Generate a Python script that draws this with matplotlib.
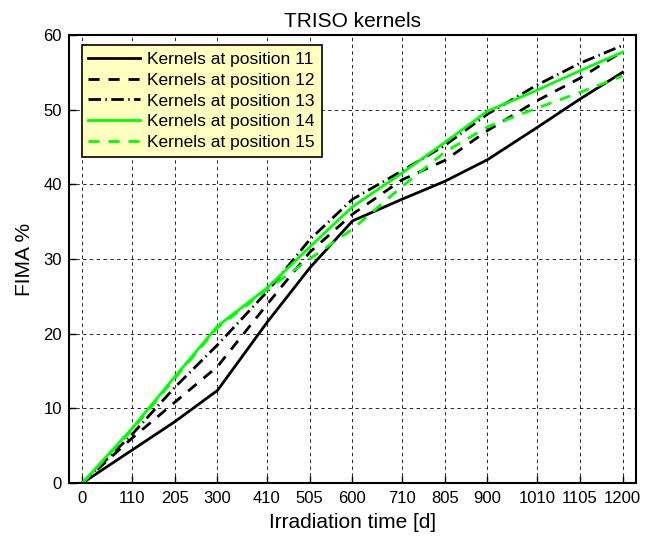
import numpy as np
import matplotlib
matplotlib.use('Agg')
import matplotlib.pyplot as plt

plt.rcParams['font.family'] = ['Liberation Sans', 'DejaVu Sans']

# irradiation days and burnup (FIMA %) for each kernel position
days = [0, 110, 205, 300, 410, 505, 600, 710, 805, 900, 1010, 1105, 1200]
fima_11 = [0, 4.4, 8.2, 12.4, 21.5, 28.8, 35.1, 38.0, 40.4, 43.3, 47.6, 51.4, 55.0]
fima_12 = [0, 6.0, 10.8, 15.6, 23.9, 30.9, 36.0, 40.6, 43.2, 47.2, 51.2, 54.2, 57.8]
fima_13 = [0, 6.5, 12.8, 18.5, 25.6, 32.6, 38.0, 41.8, 45.2, 49.4, 53.3, 56.2, 58.6]
fima_14 = [0, 7.3, 14.2, 21.0, 26.1, 31.6, 37.0, 41.5, 45.6, 49.8, 52.6, 55.2, 57.7]
fima_15 = [0, 7.1, 14.0, 20.8, 25.9, 30.0, 34.0, 39.7, 44.3, 47.7, 50.2, 52.3, 54.5]
labels = ['Kernels at position 11', 'Kernels at position 12',
          'Kernels at position 13', 'Kernels at position 14',
          'Kernels at position 15']

fig = plt.figure(figsize=(6.59, 5.45), dpi=100)
ax = fig.add_axes([0.1047, 0.1138, 0.8604, 0.822])

green = '#00ff00'
lw = 2.0
ax.plot(days, fima_11, color='k', lw=lw, ls='-', label=labels[0])
ax.plot(days, fima_12, color='k', lw=lw, ls=(0, (4, 3.2)), label=labels[1])
ax.plot(days, fima_13, color='k', lw=lw, ls=(0, (4.5, 1.6, 0.5, 1.6)), label=labels[2])
ax.plot(days, fima_14, color=green, lw=lw, ls='-', label=labels[3])
ax.plot(days, fima_15, color=green, lw=lw, ls=(0, (4, 3.2)), label=labels[4])

ax.set_xlim(-30, 1230)
ax.set_ylim(0, 60)
ax.set_xticks(days)
ax.set_yticks(np.arange(0, 61, 10))
ax.tick_params(direction='in', length=5, width=1, labelsize=12, pad=6)
ax.tick_params(axis='y', pad=5)
for sp in ax.spines.values():
    sp.set_linewidth(1.5)

ax.grid(True, color='0.15', lw=0.7, ls=(0, (3.5, 3.5)))
ax.set_axisbelow(True)

ax.set_title('TRISO kernels', fontsize=15, pad=6)
ax.set_xlabel('Irradiation time [d]', fontsize=15, labelpad=5)
ax.set_ylabel('FIMA %', fontsize=15, labelpad=7)

leg = ax.legend(loc='upper left', bbox_to_anchor=(12.7 / 567, 1 - 10 / 448),
                borderaxespad=0, fontsize=12.5, fancybox=False, framealpha=1,
                facecolor='#ffffc0', edgecolor='k', handlelength=3.0,
                handletextpad=0.4, labelspacing=0.33, borderpad=0.38)
leg.get_frame().set_linewidth(1.2)

fig.savefig('out.png', dpi=100)
